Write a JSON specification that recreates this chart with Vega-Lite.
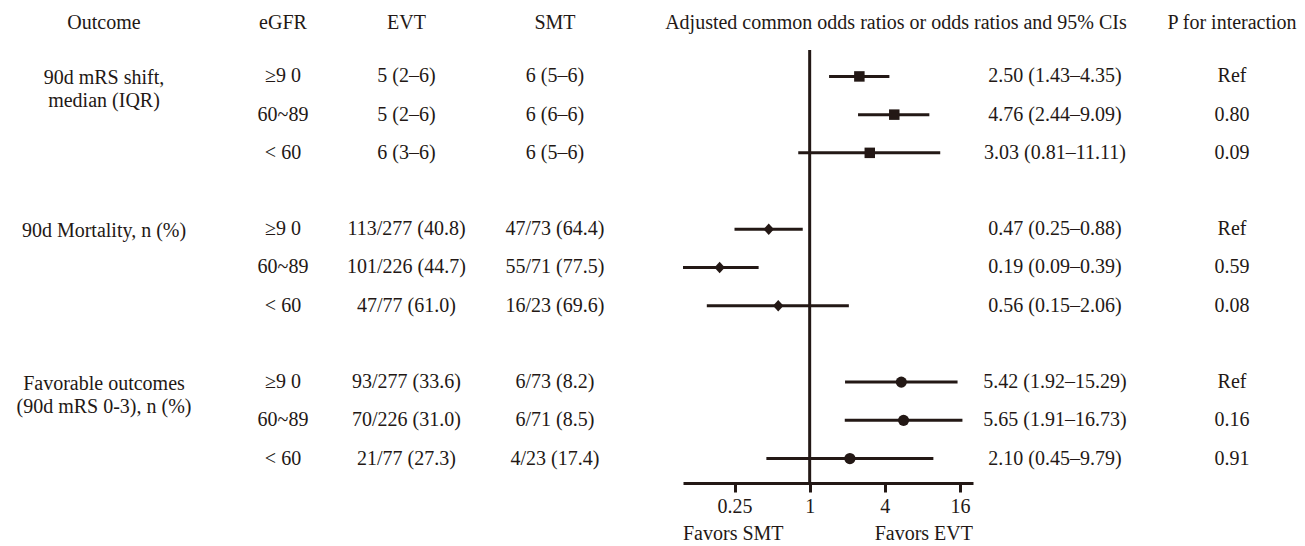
{
  "$schema": "https://vega.github.io/schema/vega-lite/v6.json",
  "padding": 0,
  "background": "white",
  "config": {
    "view": {"stroke": null},
    "text": {"font": "Liberation Serif", "fontSize": 20, "color": "#231815", "baseline": "middle"},
    "axis": {"labelFont": "Liberation Serif"}
  },
  "datasets": {
    "rows": [
      {"row": 1, "group": "mRS", "egfr": "≥9 0", "evt": "5 (2–6)", "smt": "6 (5–6)", "or": 2.50, "lo": 1.43, "hi": 4.35, "est": "2.50 (1.43–4.35)", "p": "Ref"},
      {"row": 2, "group": "mRS", "egfr": "60~89", "evt": "5 (2–6)", "smt": "6 (6–6)", "or": 4.76, "lo": 2.44, "hi": 9.09, "est": "4.76 (2.44–9.09)", "p": "0.80"},
      {"row": 3, "group": "mRS", "egfr": "< 60", "evt": "6 (3–6)", "smt": "6 (5–6)", "or": 3.03, "lo": 0.81, "hi": 11.11, "est": "3.03 (0.81–11.11)", "p": "0.09"},
      {"row": 5, "group": "Mort", "egfr": "≥9 0", "evt": "113/277 (40.8)", "smt": "47/73 (64.4)", "or": 0.47, "lo": 0.25, "hi": 0.88, "est": "0.47 (0.25–0.88)", "p": "Ref"},
      {"row": 6, "group": "Mort", "egfr": "60~89", "evt": "101/226 (44.7)", "smt": "55/71 (77.5)", "or": 0.19, "lo": 0.09, "hi": 0.39, "est": "0.19 (0.09–0.39)", "p": "0.59"},
      {"row": 7, "group": "Mort", "egfr": "< 60", "evt": "47/77 (61.0)", "smt": "16/23 (69.6)", "or": 0.56, "lo": 0.15, "hi": 2.06, "est": "0.56 (0.15–2.06)", "p": "0.08"},
      {"row": 9, "group": "Fav", "egfr": "≥9 0", "evt": "93/277 (33.6)", "smt": "6/73 (8.2)", "or": 5.42, "lo": 1.92, "hi": 15.29, "est": "5.42 (1.92–15.29)", "p": "Ref"},
      {"row": 10, "group": "Fav", "egfr": "60~89", "evt": "70/226 (31.0)", "smt": "6/71 (8.5)", "or": 5.65, "lo": 1.91, "hi": 16.73, "est": "5.65 (1.91–16.73)", "p": "0.16"},
      {"row": 11, "group": "Fav", "egfr": "< 60", "evt": "21/77 (27.3)", "smt": "4/23 (17.4)", "or": 2.10, "lo": 0.45, "hi": 9.79, "est": "2.10 (0.45–9.79)", "p": "0.91"}
    ],
    "outcomes": [
      {"row": 1, "lines": ["90d mRS shift,", "median (IQR)"]},
      {"row": 5, "lines": ["90d Mortality, n (%)"]},
      {"row": 9, "lines": ["Favorable outcomes", "(90d mRS 0-3), n (%)"]}
    ]
  },
  "bounds": "flush",
  "spacing": 0,
  "hconcat": [
    {
      "width": 208, "height": 483,
      "layer": [
        {"data": {"values": [{"h": "Outcome"}]}, "mark": {"type": "text"},
         "encoding": {"y": {"datum": -0.39, "type": "quantitative", "scale": {"domain": [-1, 11.64], "reverse": true, "nice": false, "zero": false}, "axis": null}, "text": {"field": "h"}}},
        {"data": {"name": "outcomes"}, "mark": {"type": "text", "baseline": "top", "dy": -8, "lineHeight": 23},
         "encoding": {"y": {"field": "row", "type": "quantitative"}, "text": {"field": "lines"}}}
      ]
    },
    {
      "width": 150, "height": 483,
      "layer": [
        {"data": {"values": [{"h": "eGFR"}]}, "mark": {"type": "text"},
         "encoding": {"y": {"datum": -0.39, "type": "quantitative", "scale": {"domain": [-1, 11.64], "reverse": true, "nice": false, "zero": false}, "axis": null}, "text": {"field": "h"}}},
        {"data": {"name": "rows"}, "mark": {"type": "text"},
         "encoding": {"y": {"field": "row", "type": "quantitative"}, "text": {"field": "egfr"}}}
      ]
    },
    {
      "width": 97, "height": 483,
      "layer": [
        {"data": {"values": [{"h": "EVT"}]}, "mark": {"type": "text"},
         "encoding": {"y": {"datum": -0.39, "type": "quantitative", "scale": {"domain": [-1, 11.64], "reverse": true, "nice": false, "zero": false}, "axis": null}, "text": {"field": "h"}}},
        {"data": {"name": "rows"}, "mark": {"type": "text"},
         "encoding": {"y": {"field": "row", "type": "quantitative"}, "text": {"field": "evt"}}}
      ]
    },
    {
      "width": 200, "height": 483,
      "layer": [
        {"data": {"values": [{"h": "SMT"}]}, "mark": {"type": "text"},
         "encoding": {"y": {"datum": -0.39, "type": "quantitative", "scale": {"domain": [-1, 11.64], "reverse": true, "nice": false, "zero": false}, "axis": null}, "text": {"field": "h"}}},
        {"data": {"name": "rows"}, "mark": {"type": "text"},
         "encoding": {"y": {"field": "row", "type": "quantitative"}, "text": {"field": "smt"}}}
      ]
    },
    {
      "width": 28, "height": 483,
      "data": {"values": []},
      "mark": {"type": "text"}
    },
    {
      "width": 290, "height": 483,
      "data": {"name": "rows"},
      "layer": [
        {"data": {"values": [{"ref": 1}]}, "mark": {"type": "rule", "color": "#231815", "strokeWidth": 3},
         "encoding": {
           "x": {"field": "ref", "type": "quantitative",
                 "scale": {"type": "log", "base": 2, "domain": [0.0967, 20.33], "nice": false, "clamp": true},
                 "axis": {"values": [0.25, 1, 4, 16], "format": "~g", "title": null, "grid": false,
                          "domainColor": "#231815", "domainWidth": 3, "tickColor": "#231815", "tickWidth": 3, "tickSize": 9,
                          "labelFontSize": 20, "labelColor": "#231815", "labelPadding": 4, "labelFlush": false, "labelOverlap": false}},
           "y": {"datum": 0.31, "type": "quantitative", "scale": {"domain": [-1, 11.64], "reverse": true, "nice": false, "zero": false}, "axis": null},
           "y2": {"datum": 11.64}
         }},
        {"mark": {"type": "rule", "color": "#231815", "strokeWidth": 3},
         "encoding": {"x": {"field": "lo", "type": "quantitative", "title": null}, "x2": {"field": "hi"}, "y": {"field": "row", "type": "quantitative"}}},
        {"transform": [{"filter": "datum.group === 'mRS'"}],
         "mark": {"type": "point", "shape": "square", "size": 110, "filled": true, "opacity": 1, "color": "#231815"},
         "encoding": {"x": {"field": "or", "type": "quantitative", "title": null}, "y": {"field": "row", "type": "quantitative"}}},
        {"transform": [{"filter": "datum.group === 'Mort'"}],
         "mark": {"type": "point", "shape": "M0,-1L0.9,0L0,1L-0.9,0Z", "size": 135, "filled": true, "opacity": 1, "color": "#231815"},
         "encoding": {"x": {"field": "or", "type": "quantitative", "title": null}, "y": {"field": "row", "type": "quantitative"}}},
        {"transform": [{"filter": "datum.group === 'Fav'"}],
         "mark": {"type": "point", "shape": "circle", "size": 125, "filled": true, "opacity": 1, "color": "#231815"},
         "encoding": {"x": {"field": "or", "type": "quantitative", "title": null}, "y": {"field": "row", "type": "quantitative"}}},
        {"data": {"values": [{"h": "Adjusted common odds ratios or odds ratios and 95% CIs"}]}, "mark": {"type": "text"},
         "encoding": {"x": {"datum": 4.91}, "y": {"datum": -0.39}, "text": {"field": "h"}}},
        {"data": {"values": [{"h": "Favors SMT"}]}, "mark": {"type": "text", "align": "left"},
         "encoding": {"x": {"datum": 0.0967}, "y": {"datum": 12.98}, "text": {"field": "h"}}},
        {"data": {"values": [{"h": "Favors EVT"}]}, "mark": {"type": "text", "align": "right"},
         "encoding": {"x": {"datum": 20.33}, "y": {"datum": 12.98}, "text": {"field": "h"}}}
      ]
    },
    {
      "width": 164, "height": 483,
      "layer": [
        {"data": {"name": "rows"}, "mark": {"type": "text"},
         "encoding": {"y": {"field": "row", "type": "quantitative", "scale": {"domain": [-1, 11.64], "reverse": true, "nice": false, "zero": false}, "axis": null}, "text": {"field": "est"}}}
      ]
    },
    {
      "width": 22, "height": 483,
      "data": {"values": []},
      "mark": {"type": "text"}
    },
    {
      "width": 146, "height": 483,
      "layer": [
        {"data": {"values": [{"h": "P for interaction"}]}, "mark": {"type": "text"},
         "encoding": {"y": {"datum": -0.39, "type": "quantitative", "scale": {"domain": [-1, 11.64], "reverse": true, "nice": false, "zero": false}, "axis": null}, "text": {"field": "h"}}},
        {"data": {"name": "rows"}, "mark": {"type": "text"},
         "encoding": {"y": {"field": "row", "type": "quantitative"}, "text": {"field": "p"}}}
      ]
    }
  ]
}
